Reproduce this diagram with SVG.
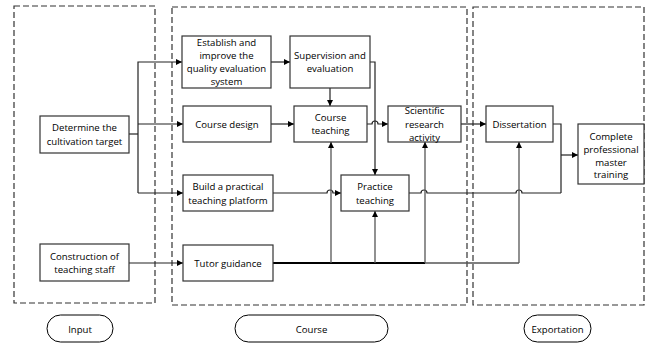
<svg xmlns="http://www.w3.org/2000/svg" width="646" height="347" viewBox="0 0 646 347">
<defs>
<marker id="ah" viewBox="0 0 10 10" refX="10" refY="5" markerWidth="6" markerHeight="6" markerUnits="userSpaceOnUse" orient="auto">
<path d="M0,0 L10,5 L0,10 Z" fill="#000"/>
</marker>
<style>
.zone{fill:none;stroke:#333;stroke-width:1.2;stroke-dasharray:6,3}
.box{fill:#fff;stroke:#333;stroke-width:1.2}
.pill{fill:#fff;stroke:#000;stroke-width:1}
text{font-family:"Open Sans","Noto Sans",sans-serif;font-size:9.6px;fill:#000;text-anchor:middle}
.c{fill:none;stroke:#222;stroke-width:1.2}
.ca{fill:none;stroke:#222;stroke-width:1.2;marker-end:url(#ah)}
.g{fill:none;stroke:#555;stroke-width:1.3}
.ga{fill:none;stroke:#555;stroke-width:1.3;marker-end:url(#ah)}
</style>
</defs>
<rect width="646" height="347" fill="#fff"/>
<g id="zones">
<rect class="zone" x="14" y="6" width="141" height="297"/>
<rect class="zone" x="172" y="7" width="295" height="298"/>
<rect class="zone" x="473" y="7" width="171" height="298"/>
</g>
<g id="connectors">
<path class="c" d="M129,134 H138"/>
<path class="ca" d="M138,193 V62 H182"/>
<path class="ca" d="M138,124 H183"/>
<path class="ca" d="M138,193 H183"/>
<path class="ca" d="M129,263 H183"/>
<path class="ca" d="M271,62 H290"/>
<path class="ca" d="M330,88 V106"/>
<path class="ca" d="M370,62 H375 V175"/>
<path class="ca" d="M271,124 H294"/>
<path class="ca" d="M367,124 H372 A3,3 0 0 1 378,124 H388"/>
<path class="ca" d="M461,124 H486"/>
<path class="c" d="M553,124 H561 V193"/>
<path class="ca" d="M561,155 H578"/>
<path class="ca" d="M273,193 H327 A3,3 0 0 1 333,193 H341"/>
<path class="c" d="M409,193 H421 A3,3 0 0 1 427,193 H516 A3,3 0 0 1 522,193 H561"/>
<path fill="none" stroke="#000" stroke-width="2" d="M273,263 H425"/>
<path class="g" d="M425,263 H519"/>
<path class="ga" d="M331,263 V142"/>
<path class="ga" d="M375,263 V211"/>
<path class="ga" d="M425,263 V142"/>
<path class="ga" d="M519,263 V142"/>
</g>
<g id="n-determine">
<rect class="box" x="40" y="116" width="89" height="37"/>
<text x="84.5" y="131">Determine the</text>
<text x="84.5" y="145">cultivation target</text>
</g>
<g id="n-construction">
<rect class="box" x="40" y="244" width="89" height="37"/>
<text x="84.5" y="260">Construction of</text>
<text x="84.5" y="273">teaching staff</text>
</g>
<g id="n-establish">
<rect class="box" x="182" y="36" width="89" height="52"/>
<text x="226.5" y="46">Establish and</text>
<text x="226.5" y="59">improve the</text>
<text x="226.5" y="72">quality evaluation</text>
<text x="226.5" y="85">system</text>
</g>
<g id="n-supervision">
<rect class="box" x="290" y="36" width="80" height="52"/>
<text x="330" y="59">Supervision and</text>
<text x="330" y="72">evaluation</text>
</g>
<g id="n-coursedesign">
<rect class="box" x="183" y="106" width="88" height="36"/>
<text x="227" y="127.5">Course design</text>
</g>
<g id="n-courseteaching">
<rect class="box" x="294" y="106" width="73" height="36"/>
<text x="330.5" y="120.5">Course</text>
<text x="330.5" y="133.5">teaching</text>
</g>
<g id="n-scientific">
<rect class="box" x="388" y="106" width="73" height="36"/>
<text x="424.5" y="113.5">Scientific</text>
<text x="424.5" y="127.5">research</text>
<text x="424.5" y="141">activity</text>
</g>
<g id="n-dissertation">
<rect class="box" x="486" y="106" width="67" height="36"/>
<text x="519.5" y="127.5">Dissertation</text>
</g>
<g id="n-complete">
<rect class="box" x="578" y="124" width="66" height="60"/>
<text x="611" y="139.5">Complete</text>
<text x="611" y="152.5">professional</text>
<text x="611" y="165.5">master</text>
<text x="611" y="178">training</text>
</g>
<g id="n-build">
<rect class="box" x="183" y="175" width="90" height="36"/>
<text x="228" y="189.5">Build a practical</text>
<text x="228" y="204">teaching platform</text>
</g>
<g id="n-practice">
<rect class="box" x="341" y="175" width="68" height="36"/>
<text x="375" y="189.5">Practice</text>
<text x="375" y="203.5">teaching</text>
</g>
<g id="n-tutor">
<rect class="box" x="183" y="245" width="90" height="36"/>
<text x="228" y="266.5">Tutor guidance</text>
</g>
<g id="l-input">
<rect class="pill" x="47" y="315" width="66" height="27" rx="13.5"/>
<text x="80" y="332.5">Input</text>
</g>
<g id="l-course">
<rect class="pill" x="235" y="315" width="153" height="27" rx="13.5"/>
<text x="311.5" y="332.5">Course</text>
</g>
<g id="l-exportation">
<rect class="pill" x="524" y="315" width="67" height="27" rx="13.5"/>
<text x="557.5" y="332.5">Exportation</text>
</g>
</svg>
